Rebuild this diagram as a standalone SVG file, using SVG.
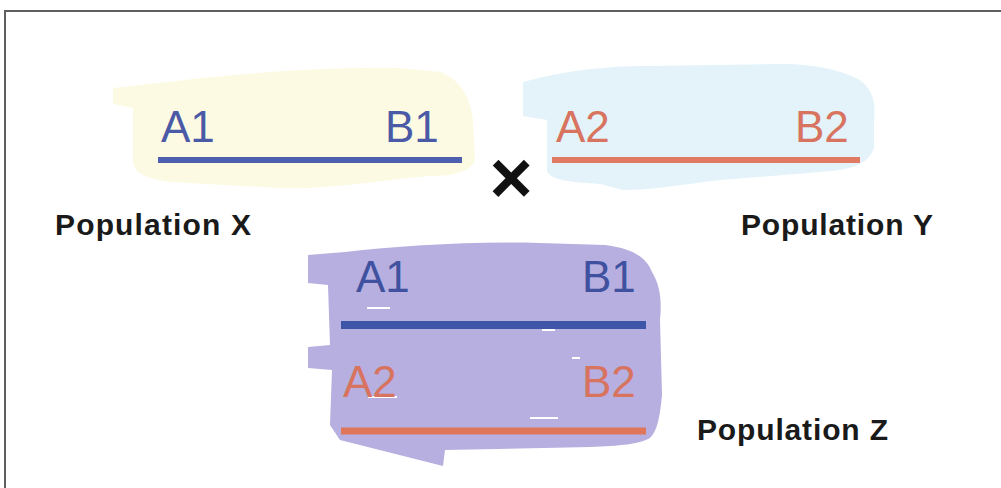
<svg xmlns="http://www.w3.org/2000/svg" width="1001" height="488" viewBox="0 0 1001 488">
  <style>
    .gene { font-family: "Liberation Sans", Arial, sans-serif; font-size: 44px; }
    .blue { fill: #4a5aa6; }
    .red { fill: #d8735f; }
    .pop { font-family: "Liberation Sans", Arial, sans-serif; font-size: 30px; font-weight: bold; fill: #1a1a1a; }
    .bline { stroke: #4d5fae; stroke-width: 6; }
    .rline { stroke: #e07a63; stroke-width: 6; }
    .streak { fill: #ffffff; }
  </style>
  <rect x="0" y="0" width="1001" height="488" fill="#ffffff"/>
  <rect x="5" y="11" width="1000" height="480" fill="none" stroke="#5f5f5f" stroke-width="2"/>

  <g id="population-x">
    <path d="M113,88 C200,78 300,66 400,68 L440,72 C460,80 470,95 473,120 L475,160 C470,172 455,176 430,176 C380,180 330,190 280,188 L170,182 C140,178 133,170 133,160 L133,108 L113,104 Z" fill="#fdfae3"/>
    <text class="gene blue" x="161" y="142">A1</text>
    <text class="gene blue" x="385" y="142">B1</text>
    <line class="bline" x1="158" y1="160" x2="462" y2="160"/>
    <text class="pop" x="55" y="235" textLength="196" lengthAdjust="spacing">Population X</text>
  </g>

  <g id="cross">
    <text x="511" y="203" text-anchor="middle" font-family="Liberation Sans, Arial, sans-serif" font-weight="bold" font-size="74" fill="#111111">×</text>
  </g>

  <g id="population-y">
    <path d="M523,82 C560,72 600,66 650,66 L780,64 C820,64 845,72 860,80 C872,90 876,100 874,120 L874,148 C868,165 850,170 820,172 L720,180 C680,185 650,190 623,190 L600,184 C570,182 548,180 547,170 L547,120 L523,116 Z" fill="#e3f3f9"/>
    <text class="gene red" x="556" y="142">A2</text>
    <text class="gene red" x="795" y="142">B2</text>
    <line class="rline" x1="552" y1="160" x2="860" y2="160"/>
    <text class="pop" x="741" y="235" textLength="192" lengthAdjust="spacing">Population Y</text>
  </g>

  <g id="population-z">
    <path d="M308,255 L345,252 C400,246 470,241 540,243 L605,245 C630,248 646,256 652,272 C660,285 662,300 660,320 L662,395 C660,415 658,430 650,438 C640,444 620,446 590,447 L445,450 L443,466 L340,440 L330,425 L332,370 L308,368 L308,347 L330,345 L328,285 L308,283 Z" fill="#b6afe0"/>
    <rect class="streak" x="367" y="307" width="23" height="2"/>
    <rect class="streak" x="542" y="329" width="13" height="2"/>
    <rect class="streak" x="572" y="357" width="8" height="2"/>
    <rect class="streak" x="368" y="396" width="29" height="2"/>
    <rect class="streak" x="530" y="417" width="28" height="2"/>
    <text class="gene" fill="#3f519f" x="356" y="292" font-size="46">A1</text>
    <text class="gene" fill="#3f519f" x="582" y="292" font-size="46">B1</text>
    <line x1="341" y1="325" x2="646" y2="325" stroke="#3f55a8" stroke-width="8"/>
    <text class="gene red" x="343" y="397" font-size="46">A2</text>
    <text class="gene red" x="582" y="397" font-size="46">B2</text>
    <line x1="341" y1="431" x2="646" y2="431" stroke="#df7559" stroke-width="7"/>
    <text class="pop" x="697" y="440" textLength="191" lengthAdjust="spacing">Population Z</text>
  </g>
</svg>
